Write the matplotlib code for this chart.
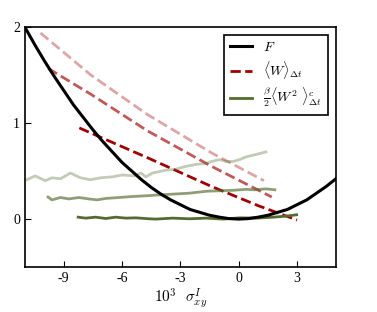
import numpy as np
import matplotlib
matplotlib.use("Agg")
import matplotlib.pyplot as plt

plt.rcParams['font.family'] = 'serif'
plt.rcParams['font.serif'] = ['Liberation Serif', 'DejaVu Serif']
plt.rcParams['mathtext.fontset'] = 'cm'
plt.rcParams['axes.unicode_minus'] = False

# free energy F (black parabola)
f_x = [-11, -10.5, -10, -9.5, -9, -8.5, -8, -7.5, -7, -6.5, -6, -5.5, -5,
       -4.5, -4, -3.5, -3, -2.5, -2, -1.5, -1, -0.5, 0, 0.5, 1, 1.5, 2,
       2.5, 3, 3.5, 4, 4.5, 5]
f_y = [2.0, 1.82, 1.65, 1.49, 1.34, 1.19, 1.06, 0.93, 0.81, 0.70, 0.59,
       0.50, 0.41, 0.33, 0.26, 0.20, 0.15, 0.10, 0.07, 0.04, 0.02, 0.005,
       0.0, 0.005, 0.02, 0.04, 0.07, 0.10, 0.15, 0.20, 0.27, 0.34, 0.42]

# mean work <W> for three dt (light -> dark)
w1_x = [-10.2, -7.6, -4.7, -1.4, 1.3]
w1_y = [1.94, 1.50, 1.09, 0.69, 0.40]
w2_x = [-9.8, -7.6, -4.7, -1.4, 1.7]
w2_y = [1.57, 1.30, 0.92, 0.55, 0.23]
w3_x = [-8.2, -6.4, -4.7, -1.4, 1.0, 3.0]
w3_y = [0.95, 0.79, 0.64, 0.34, 0.14, -0.01]

# beta/2 <W^2>^c for three dt (light -> dark)
v1_x = [-10.9, -10.47, -9.95, -9.61, -9.17, -8.66, -8.14, -7.62, -7.10, -6.50,
        -5.98, -5.38, -5.03, -4.78, -4.43, -3.74, -3.23, -2.71, -2.19, -1.67,
        -1.41, -0.98, -0.64, -0.29, 0.05, 0.40, 0.83, 1.40]
v1_y = [0.41, 0.45, 0.40, 0.43, 0.42, 0.48, 0.43, 0.41, 0.43, 0.44,
        0.46, 0.45, 0.48, 0.44, 0.48, 0.51, 0.52, 0.55, 0.57, 0.58,
        0.60, 0.62, 0.60, 0.60, 0.62, 0.65, 0.67, 0.70]
v2_x = [-9.81, -9.61, -9.17, -8.74, -8.22, -7.71, -7.28, -6.85, -6.16, -5.47,
        -4.60, -4.26, -3.40, -2.53, -1.67, -0.98, -0.29, 0.40, 0.83, 1.40, 1.86]
v2_y = [0.23, 0.20, 0.225, 0.21, 0.225, 0.21, 0.20, 0.215, 0.225, 0.235,
        0.245, 0.25, 0.26, 0.27, 0.29, 0.295, 0.30, 0.31, 0.305, 0.315, 0.305]
v3_x = [-8.26, -7.88, -7.36, -6.84, -6.33, -5.81, -5.29, -4.60, -4.26, -3.40,
        -2.53, -1.67, -0.81, 0.05, 0.91, 1.77, 2.40, 2.98]
v3_y = [0.02, 0.01, 0.02, 0.006, 0.02, 0.01, 0.013, 0.003, 0.0, 0.01,
        0.003, 0.01, 0.0, 0.013, 0.01, 0.02, 0.03, 0.045]

red = '#a00000'
green = '#556b2f'

fig = plt.figure(figsize=(3.77, 3.12), dpi=100)
ax = fig.add_axes([0.066, 0.144, 0.825, 0.769])

ax.plot(f_x, f_y, color='k', lw=2.2, label='$F$', zorder=3)
ax.plot(w1_x, w1_y, '--', color=red, lw=2, alpha=0.35)
ax.plot(w2_x, w2_y, '--', color=red, lw=2, alpha=0.65)
ax.plot(w3_x, w3_y, '--', color=red, lw=2, label=r'$\langle W\rangle_{\Delta t}$')
ax.plot(v1_x, v1_y, color=green, lw=2, alpha=0.35)
ax.plot(v2_x, v2_y, color=green, lw=2, alpha=0.65)
ax.plot(v3_x, v3_y, color=green, lw=2,
        label=r'$\frac{\beta}{2}\langle W^2\ \rangle^c_{\Delta t}$')

ax.set_xlim(-11, 5)
ax.set_ylim(-0.5, 2)
ax.set_xticks([-9, -6, -3, 0, 3])
ax.set_yticks([0, 1, 2])
ax.tick_params(direction='in', length=4, top=False, right=False, labelsize=10)
for s in ax.spines.values():
    s.set_linewidth(1.2)
ax.set_xlabel(r'$10^3\ \ \sigma_{xy}^I$', fontsize=11, labelpad=1)

leg = ax.legend(loc='upper right', fontsize=10, handlelength=1.6,
                fancybox=False, framealpha=1, edgecolor='k',
                borderaxespad=0.6, labelspacing=0.35)
leg.get_frame().set_linewidth(1.2)

fig.savefig('out.png', dpi=100)
